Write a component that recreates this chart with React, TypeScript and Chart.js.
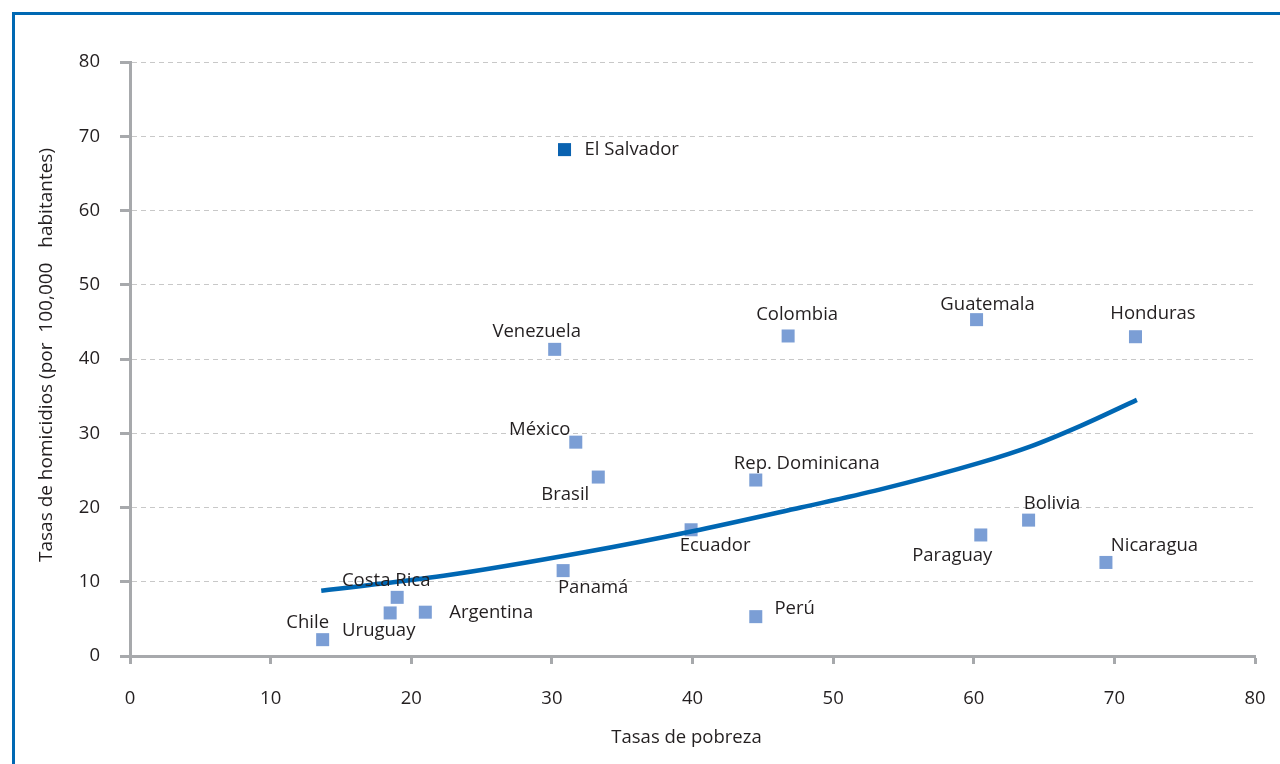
import React, { useEffect, useRef } from "react";
import { Chart, registerables } from "chart.js";

Chart.register(...registerables);

// ---- data ----
const countries = [
  "El Salvador", "Venezuela", "Colombia", "Guatemala", "Honduras", "México",
  "Brasil", "Rep. Dominicana", "Ecuador", "Bolivia", "Paraguay", "Nicaragua",
  "Panamá", "Costa Rica", "Uruguay", "Argentina", "Perú", "Chile",
];
const povertyRates = [
  30.9, 30.2, 46.8, 60.2, 71.5, 31.7,
  33.3, 44.5, 39.9, 63.9, 60.5, 69.4,
  30.8, 19.0, 18.5, 21.0, 44.5, 13.7,
];
const homicideRates = [
  68.2, 41.3, 43.1, 45.3, 43.0, 28.8,
  24.1, 23.7, 17.0, 18.3, 16.3, 12.6,
  11.5, 7.9, 5.8, 5.9, 5.3, 2.2,
];
const highlightedCountry = "El Salvador";

// trend curve
const trendX = [13.6, 22.3, 32.4, 40.0, 47.7, 53.3, 60.4, 64.0, 67.6, 71.6];
const trendY = [8.8, 10.8, 14.0, 16.8, 20.0, 22.4, 26.0, 28.2, 31.0, 34.5];

const axisMin = 0;
const axisMax = 80;
const axisStep = 10;

const xTitle = "Tasas de pobreza";
const yTitle = "Tasas de homicidios (por  100,000   habitantes)";

// label placement relative to each marker: [dx, dy, align]
const labelPlacement: [number, number, CanvasTextAlign][] = [
  [20, 0, "left"], [-18, -17.5, "center"], [9, -21, "center"], [11, -15, "center"],
  [17.5, -22.5, "center"], [-36, -12, "center"], [-33, 18, "center"], [51, -16, "center"],
  [24, 15.5, "center"], [23.5, -16.3, "center"], [-28.5, 20.4, "center"], [48.5, -16.6, "center"],
  [30, 17.6, "center"], [-11, -16.7, "center"], [-11.4, 17.3, "center"], [24, 1, "left"],
  [18.6, -8.4, "left"], [-15, -17.3, "center"],
];

const FONT = "'Open Sans', sans-serif";
const FONT_SIZE = 18.5;
const Y_TITLE_SIZE = 19;
const TEXT_COLOR = "#231F20";
const AXIS_COLOR = "#A7A9AC";
const GRID_COLOR = "#C8C8C8";
const POINT_COLOR = "#7B9ED5";
const HIGHLIGHT_COLOR = "#0A62B0";
const LINE_COLOR = "#0067B3";
const FRAME_COLOR = "#0068B3";

const labelsPlugin = {
  id: "countryLabels",
  afterDatasetsDraw(chart: any) {
    const ctx = chart.ctx as CanvasRenderingContext2D;
    const meta = chart.getDatasetMeta(1);
    ctx.save();
    ctx.font = `${FONT_SIZE}px ${FONT}`;
    ctx.fillStyle = TEXT_COLOR;
    ctx.textBaseline = "middle";
    meta.data.forEach((pt: any, i: number) => {
      const [dx, dy, align] = labelPlacement[i];
      ctx.textAlign = align;
      ctx.fillText(countries[i], pt.x + dx, pt.y + dy);
    });
    ctx.restore();
  },
  afterDraw(chart: any) {
    const ctx = chart.ctx as CanvasRenderingContext2D;
    const area = chart.chartArea;
    ctx.save();
    ctx.fillStyle = TEXT_COLOR;
    ctx.textAlign = "center";
    ctx.textBaseline = "middle";
    // x title
    ctx.font = `${FONT_SIZE}px ${FONT}`;
    ctx.fillText(xTitle, (area.left + area.right) / 2 - 6, area.bottom + 82);
    // y title
    ctx.font = `${Y_TITLE_SIZE}px ${FONT}`;
    ctx.translate(47, (area.top + area.bottom) / 2 - 4);
    ctx.rotate(-Math.PI / 2);
    ctx.fillText(yTitle, 0, 0);
    ctx.restore();
  },
};

export default function App() {
  const canvasRef = useRef<HTMLCanvasElement | null>(null);

  useEffect(() => {
    if (!canvasRef.current) return;
    const points = povertyRates.map((x, i) => ({ x, y: homicideRates[i] }));
    const trend = trendX.map((x, i) => ({ x, y: trendY[i] }));
    const colors = countries.map((c) => (c === highlightedCountry ? HIGHLIGHT_COLOR : POINT_COLOR));

    const tickFont = { family: FONT, size: FONT_SIZE };

    const chart = new Chart(canvasRef.current, {
      type: "scatter",
      data: {
        datasets: [
          {
            type: "line",
            label: "Tendencia",
            data: trend,
            borderColor: LINE_COLOR,
            borderWidth: 4.5,
            pointRadius: 0,
            cubicInterpolationMode: "monotone",
            fill: false,
            order: 0,
          } as any,
          {
            label: "Países",
            data: points,
            pointStyle: "rect",
            pointRadius: 9.2,
            pointHoverRadius: 9.2,
            pointBackgroundColor: colors,
            backgroundColor: colors,
            borderWidth: 0,
            pointBorderWidth: 0,
            order: 1,
          } as any,
        ],
      },
      options: {
        responsive: false,
        animation: false,
        layout: { padding: { left: 0, top: 62, right: 25, bottom: 0 } },
        plugins: {
          legend: { display: false },
          tooltip: { enabled: false },
        },
        scales: {
          x: {
            type: "linear",
            min: axisMin,
            max: axisMax,
            afterFit: (s: any) => {
              s.height = 108;
              s.paddingRight = 0;
              s.paddingLeft = 0;
            },
            ticks: { stepSize: axisStep, padding: 24, color: TEXT_COLOR, font: tickFont },
            grid: {
              drawOnChartArea: false,
              drawTicks: true,
              tickLength: 8,
              tickWidth: 3,
              tickColor: AXIS_COLOR,
              color: AXIS_COLOR,
            },
            border: { display: true, width: 3, color: AXIS_COLOR },
          },
          y: {
            type: "linear",
            min: axisMin,
            max: axisMax,
            afterFit: (s: any) => { s.width = 130; },
            ticks: { stepSize: axisStep, padding: 20, color: TEXT_COLOR, font: tickFont },
            grid: {
              drawOnChartArea: true,
              drawTicks: true,
              tickLength: 10,
              tickWidth: 3,
              tickColor: AXIS_COLOR,
              color: GRID_COLOR,
              lineWidth: 1,
            },
            border: { display: true, width: 3, color: AXIS_COLOR, dash: [5, 4] },
          },
        },
      } as any,
      plugins: [labelsPlugin],
    });
    return () => chart.destroy();
  }, []);

  return (
    <div style={{ position: "fixed", left: 0, top: 0, width: 1280, height: 764, overflow: "hidden", background: "#fff" }}>
      <div
        style={{
          position: "absolute",
          left: 12,
          top: 12,
          width: 1300,
          height: 800,
          borderTop: `3px solid ${FRAME_COLOR}`,
          borderLeft: `3px solid ${FRAME_COLOR}`,
        }}
      />
      <canvas ref={canvasRef} width={1280} height={764} style={{ position: "absolute", left: 0, top: 0 }} />
    </div>
  );
}
